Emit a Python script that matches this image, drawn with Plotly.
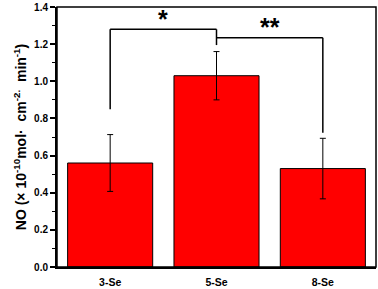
import plotly.graph_objects as go

categories = ["3-Se", "5-Se", "8-Se"]
values = [0.56, 1.03, 0.53]
errors = [0.153, 0.13, 0.163]

# significance brackets: (from index, to index, top y, left leg bottom, right leg bottom, label)
brackets = [
    (0, 1, 1.28, 0.85, 1.195, "*"),
    (1, 2, 1.235, 1.235, 0.723, "**"),
]
label_y = [1.335, 1.295]

y_ticks = [0.0, 0.2, 0.4, 0.6, 0.8, 1.0, 1.2, 1.4]

fig = go.Figure()
fig.add_trace(go.Bar(
    x=list(range(len(categories))), y=values,
    width=0.8,
    marker=dict(color="#FF0000", line=dict(color="black", width=1)),
    error_y=dict(type="data", array=errors, visible=True, color="black", thickness=1, width=3),
))

shapes = []
annotations = []
for (i, j, top, lb, rb, lab), ly in zip(brackets, label_y):
    shapes.append(dict(type="line", x0=i, x1=i, y0=lb, y1=top, xref="x", yref="y", line=dict(color="black", width=1.5)))
    shapes.append(dict(type="line", x0=i, x1=j, y0=top, y1=top, xref="x", yref="y", line=dict(color="black", width=1.5)))
    shapes.append(dict(type="line", x0=j, x1=j, y0=top, y1=rb, xref="x", yref="y", line=dict(color="black", width=1.5)))
    annotations.append(dict(x=(i + j) / 2, y=ly, xref="x", yref="y", text="<b>" + lab + "</b>", showarrow=False,
                            font=dict(family="Arial, Liberation Sans", size=25, color="black")))

# frame top/right
shapes.append(dict(type="rect", x0=0, x1=1, y0=0, y1=1, xref="paper", yref="paper", line=dict(color="black", width=1.5)))

fig.update_layout(
    width=378, height=289,
    margin=dict(l=57, r=2, t=7, b=22),
    paper_bgcolor="white", plot_bgcolor="white",
    showlegend=False,
    shapes=shapes, annotations=annotations,
    font=dict(family="Arial, Liberation Sans", color="black"),
)
fig.update_xaxes(
    range=[-0.5, 2.5], tickmode="array", tickvals=list(range(len(categories))),
    ticktext=["<b>" + c + "</b>" for c in categories],
    tickfont=dict(size=10.5), ticks="", showline=True, linecolor="black", linewidth=2,
    showgrid=False, zeroline=False, ticklabelstandoff=4, automargin=False,
)
fig.update_yaxes(
    range=[0, 1.4], tickmode="array", tickvals=y_ticks,
    ticktext=["<b>%.1f</b>" % v for v in y_ticks],
    tickfont=dict(size=10), ticks="outside", ticklen=5, tickwidth=1.5, tickcolor="black",
    minor=dict(ticks="outside", ticklen=3, tickwidth=1, tickcolor="black", dtick=0.1, showgrid=False),
    showline=True, linecolor="black", linewidth=2, showgrid=False, zeroline=False, automargin=False,
    title=dict(text="<b>NO (× 10<sup>-10</sup>mol·  cm<sup>-2.</sup>  min<sup>-1</sup>)</b>", font=dict(size=14), standoff=4),
)

fig.write_html("out.html", config={"displayModeBar": False},
               post_script="document.body.style.margin='0';document.body.style.overflow='hidden';")
